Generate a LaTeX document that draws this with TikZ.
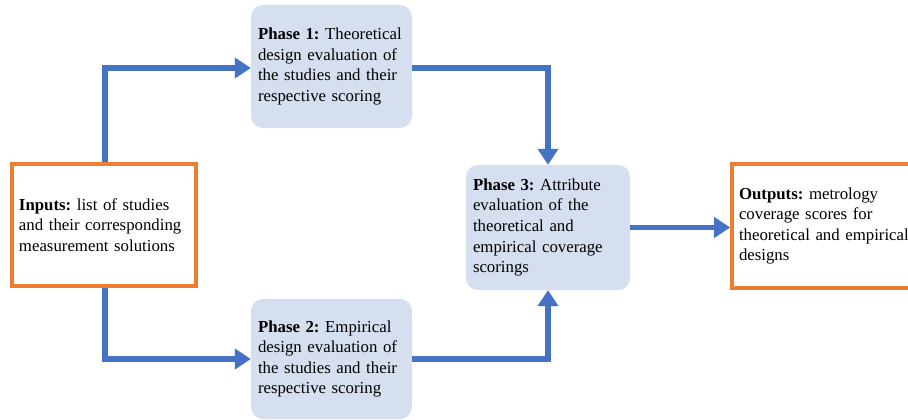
\documentclass[tikz,border=0pt]{standalone}
\usepackage{fontspec}
\setmainfont{Liberation Serif}
\usetikzlibrary{arrows.meta}
\definecolor{arrowblue}{HTML}{4472C4}
\definecolor{boxorange}{HTML}{ED7D31}
\definecolor{phasefill}{HTML}{D6DFEF}
\begin{document}
\frenchspacing
\begin{tikzpicture}[x=1pt,y=-1pt,
  txt/.style={font=\fontsize{16.8pt}{20.6pt}\selectfont, align=left, anchor=center},
  iobox/.style={txt, draw=boxorange, line width=3.6pt, fill=white, inner xsep=7pt, inner ysep=0pt},
  phasebox/.style={txt, fill=phasefill, rounded corners=12pt, inner xsep=7pt, inner ysep=0pt},
  flow/.style={draw=arrowblue, line width=5.4pt, -{Triangle[length=16pt,width=20pt]}}]
\fill[white] (0,0) rectangle (908,420);
\useasboundingbox (0,0) rectangle (908,420);
\clip (0,0) rectangle (908,420);
% boxes
\node[iobox, minimum width=184pt, minimum height=122pt, text width=170pt] (in) at (104,225)
  {\textbf{Inputs:} list of studies\\and their corresponding\\measurement solutions};
\node[phasebox, minimum width=161pt, minimum height=123pt, text width=147pt] (p1) at (331.5,66.5)
  {\textbf{Phase 1:} Theoretical\\design evaluation of\\the studies and their\\respective scoring};
\node[phasebox, minimum width=161pt, minimum height=120pt, text width=147pt] (p2) at (331.5,359)
  {\textbf{Phase 2:} Empirical\\design evaluation of\\the studies and their\\respective scoring};
\node[phasebox, minimum width=164pt, minimum height=125pt, text width=150pt] (p3) at (548,227.5)
  {\textbf{Phase 3:} Attribute\\evaluation of the\\theoretical and\\empirical coverage\\scorings};
\node[iobox, minimum width=190pt, minimum height=124pt, text width=176pt] (out) at (827,226)
  {\textbf{Outputs:} metrology\\coverage scores for\\theoretical and empirical\\designs};
% connectors
\coordinate (c1) at (105,68);
\coordinate (c2) at (105,359);
\coordinate (c3) at (548,68);
\coordinate (c4) at (548,359);
\draw[flow] (in.north -| c1) -- (c1) -- (c1 -| p1.west);
\draw[flow] (in.south -| c2) -- (c2) -- (c2 -| p2.west);
\draw[flow] (c3 -| p1.east) -- (c3) -- (p3.north);
\draw[flow] (c4 -| p2.east) -- (c4) -- (p3.south);
\draw[flow] (p3.east) -- (out.west |- p3.east);
\end{tikzpicture}
\end{document}
